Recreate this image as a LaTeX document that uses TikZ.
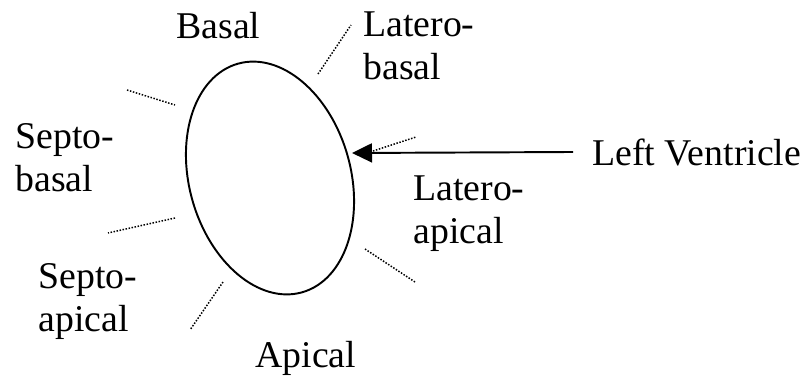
\documentclass[tikz,border=0pt]{standalone}
\usepackage{fontspec}
\setmainfont{Liberation Serif}
\usetikzlibrary{shapes.geometric, arrows.meta}

\begin{document}
\begin{tikzpicture}[
    x=0.02cm, y=-0.02cm,
    >={Triangle[length=0.4cm, width=0.38cm]},
    wall/.style={ellipse, draw, line width=1.1pt, minimum width=3.23cm,
                 minimum height=4.75cm, inner sep=0pt, outer sep=0pt},
    segment/.style={font=\fontsize{21.5}{24}\selectfont, align=left,
                    anchor=base west, inner sep=0pt},
    divider/.style={line width=0.85pt, dash pattern=on 0.85pt off 0.9pt}
]
\useasboundingbox (0,0) rectangle (804,376);
\node[wall, rotate=15.6] (lv) at (270,178) {};
\coordinate (tip) at (352,153);
% segment names round the ventricle (base = last line)
\node[segment] (basal) at (176,38) {Basal};
\node[segment] (latbasal) at (363,79) {Latero-\\basal};
\node[segment] (septbasal) at (15,191) {Septo-\\basal};
\node[segment] (latapical) at (413,243) {Latero-\\apical};
\node[segment] (septapical) at (38,331) {Septo-\\apical};
\node[segment] (apical) at (255,367) {Apical};
\node[segment, inner xsep=0.38cm] (lvname) at (573,165) {Left Ventricle};
\draw[->, line width=1.1pt] (lvname.west) -- (tip);
% dotted boundaries between the segments
\foreach \a/\b in {{(127,90)}/{(175,105)}, {(318,74)}/{(351,25)},
                   {(373,151)}/{(416,137)}, {(365,249)}/{(415,282)},
                   {(223,282)}/{(190,330)}, {(175,218)}/{(108,233)}} {
    \draw[divider] \a -- \b;
}
\end{tikzpicture}
\end{document}
